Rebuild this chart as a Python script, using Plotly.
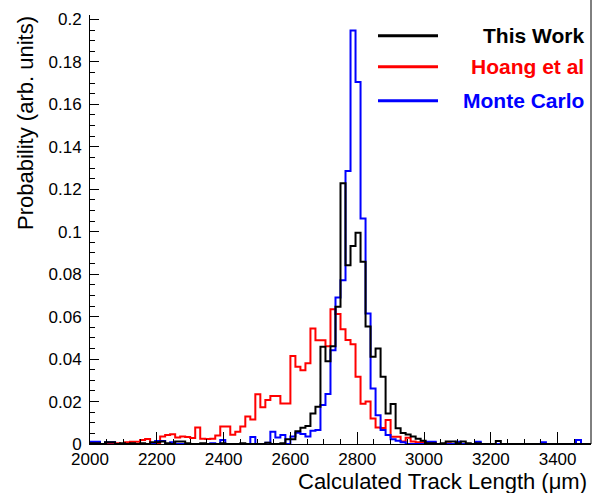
import numpy as np
import plotly.graph_objects as go

# Histogram binning: 100 bins of 15 um from 2000 to 3500 um
BIN_LO = 2000
BIN_WIDTH = 15
N_BINS = 100

# Normalised track-length distributions (one value per bin)
this_work = [
    0.0004, 0.0004, 0.0, 0.0008, 0.0008, 0.0, 0.0004, 0.0, 0.0004, 0.0,
    0.0004, 0.0, 0.0008, 0.0008, 0.0012, 0.0004, 0.0, 0.0012, 0.0012, 0.0004,
    0.0, 0.0, 0.0004, 0.0, 0.0, 0.0, 0.0004, 0.0, 0.0, 0.0,
    0.0004, 0.0, 0.0, 0.0, 0.0, 0.0006, 0.0, 0.0, 0.0004, 0.0022,
    0.0022, 0.0060, 0.0076, 0.0085, 0.0144, 0.0175, 0.0458, 0.0390, 0.0460, 0.0646,
    0.1228, 0.0842, 0.0933, 0.0995, 0.0858, 0.0553, 0.0411, 0.0450, 0.0317, 0.0144,
    0.0188, 0.0074, 0.0052, 0.0045, 0.0035, 0.0025, 0.0015, 0.0004, 0.0004, 0.0,
    0.0004, 0.0012, 0.0012, 0.0004, 0.0012, 0.0004, 0.0, 0.0004, 0.0, 0.0,
    0.0, 0.0014, 0.0, 0.0, 0.0, 0.0, 0.0, 0.0, 0.0, 0.0,
    0.0, 0.0, 0.0, 0.0, 0.0, 0.0, 0.0, 0.0, 0.0, 0.0,
]

hoang = [
    0.0008, 0.0004, 0.0, 0.0, 0.0, 0.0004, 0.0, 0.0008, 0.0011, 0.0011,
    0.0019, 0.0023, 0.0004, 0.0004, 0.0035, 0.0042, 0.0046, 0.0031, 0.0035, 0.0033,
    0.0028, 0.0078, 0.0025, 0.0023, 0.0025, 0.0040, 0.0082, 0.0082, 0.0044, 0.0058,
    0.0082, 0.0129, 0.0116, 0.0234, 0.0173, 0.0207, 0.0226, 0.0226, 0.0191, 0.0191,
    0.0414, 0.0364, 0.0348, 0.0380, 0.0544, 0.0489, 0.0489, 0.0460, 0.0635, 0.0612,
    0.0540, 0.0490, 0.0470, 0.0317, 0.0190, 0.0200, 0.0120, 0.0078, 0.0075, 0.0113,
    0.0034, 0.0034, 0.0012, 0.0030, 0.0012, 0.0008, 0.0008, 0.0004, 0.0008, 0.0,
    0.0, 0.0004, 0.0, 0.0, 0.0, 0.0, 0.0, 0.0, 0.0, 0.0,
    0.0, 0.0, 0.0, 0.0, 0.0, 0.0, 0.0, 0.0, 0.0, 0.0,
    0.0, 0.0, 0.0, 0.0, 0.0, 0.0, 0.0, 0.0, 0.0, 0.0,
]

monte_carlo = [
    0.0011, 0.0011, 0.0, 0.0008, 0.0008, 0.0, 0.0, 0.0, 0.0, 0.0,
    0.0, 0.0, 0.0, 0.0014, 0.0014, 0.0, 0.0008, 0.0, 0.0, 0.0,
    0.0, 0.0, 0.0, 0.0, 0.0004, 0.0, 0.0019, 0.0, 0.0, 0.0,
    0.0, 0.0, 0.0033, 0.0, 0.0, 0.0006, 0.0058, 0.0031, 0.0042, 0.0,
    0.0035, 0.0053, 0.0047, 0.0035, 0.0063, 0.0066, 0.0184, 0.0236, 0.0442, 0.0690,
    0.0772, 0.1286, 0.1948, 0.1705, 0.1062, 0.0615, 0.0262, 0.0136, 0.0066, 0.0042,
    0.0022, 0.0015, 0.0008, 0.0, 0.0, 0.0, 0.0, 0.0011, 0.0011, 0.0,
    0.0, 0.0, 0.0, 0.0011, 0.0, 0.0, 0.0, 0.0011, 0.0, 0.0,
    0.0, 0.0, 0.0, 0.0, 0.0, 0.0, 0.0, 0.0, 0.0, 0.0,
    0.0008, 0.0, 0.0, 0.0, 0.0, 0.0, 0.0, 0.0019, 0.0, 0.0,
]

series_names = ["This Work", "Hoang et al", "Monte Carlo"]
series_colors = ["#000000", "#ff0000", "#0000ff"]

x_tick_vals = [2000, 2200, 2400, 2600, 2800, 3000, 3200, 3400]
x_tick_text = ["2000", "2200", "2400", "2600", "2800", "3000", "3200", "3400"]
y_tick_vals = [0, 0.02, 0.04, 0.06, 0.08, 0.1, 0.12, 0.14, 0.16, 0.18, 0.2]
y_tick_text = ["0", "0.02", "0.04", "0.06", "0.08", "0.1", "0.12", "0.14", "0.16", "0.18", "0.2"]

X_TITLE = "Calculated Track Length (\u03bcm)"
Y_TITLE = "Probability (arb. units)"

# ---- layout geometry (pixels) ----
W, H = 595, 493
M_L, M_R, M_T, M_B = 90, 4, 15, 49
PLOT_W = W - M_L - M_R
PLOT_H = H - M_T - M_B
FONT = "Liberation Sans, Arial, Helvetica, sans-serif"


def px_x(px):
    return (px - M_L) / PLOT_W


def px_y(py):
    return (H - M_B - py) / PLOT_H


edges = BIN_LO + BIN_WIDTH * np.arange(N_BINS + 1)


def step_trace(values, color, name):
    vals = list(values)
    return go.Scatter(
        x=edges,
        y=vals + [vals[-1]],
        mode="lines",
        line=dict(color=color, width=2, shape="hv"),
        name=name,
        showlegend=False,
        hoverinfo="skip",
    )


fig = go.Figure()
# drawing order: red, blue, then black on top
fig.add_trace(step_trace(hoang, series_colors[1], series_names[1]))
fig.add_trace(step_trace(monte_carlo, series_colors[2], series_names[2]))
fig.add_trace(step_trace(this_work, series_colors[0], series_names[0]))

axis_common = dict(
    showgrid=False,
    zeroline=False,
    showline=True,
    linecolor="black",
    linewidth=1,
    ticks="inside",
    tickcolor="black",
    tickwidth=1,
    tickfont=dict(family=FONT, size=17, color="black"),
)

fig.update_xaxes(
    range=[BIN_LO, BIN_LO + BIN_WIDTH * N_BINS],
    tickmode="array",
    tickvals=x_tick_vals,
    ticktext=x_tick_text,
    ticklen=12,
    ticklabelstandoff=0,
    minor=dict(ticks="inside", ticklen=5, dtick=50, tick0=2000, tickcolor="black", showgrid=False),
    **axis_common,
)
fig.update_yaxes(
    range=[0, 0.2021],
    tickmode="array",
    tickvals=y_tick_vals,
    ticktext=y_tick_text,
    ticklen=9,
    ticklabelstandoff=4,
    minor=dict(ticks="inside", ticklen=5, dtick=0.005, tick0=0, tickcolor="black", showgrid=False),
    **axis_common,
)

shapes = [
    # right-hand frame line
    dict(type="line", xref="paper", yref="paper", x0=1, x1=1, y0=0, y1=px_y(0),
         line=dict(color="black", width=1)),
]

annotations = [
    dict(text=X_TITLE, xref="paper", yref="paper", x=px_x(589), y=px_y(482),
         xanchor="right", yanchor="middle", showarrow=False,
         font=dict(family=FONT, size=22, color="black")),
    dict(text=Y_TITLE, xref="paper", yref="paper", x=px_x(26), y=px_y(14),
         xanchor="center", yanchor="top", textangle=-90, showarrow=False,
         font=dict(family=FONT, size=22, color="black")),
]

# legend: line sample on the left, bold right-aligned label
legend_rows = [35.7, 66.7, 100.7]
for name, color, row in zip(series_names, series_colors, legend_rows):
    shapes.append(dict(type="line", xref="paper", yref="paper",
                       x0=px_x(378), x1=px_x(438), y0=px_y(row), y1=px_y(row),
                       line=dict(color=color, width=3)))
    annotations.append(dict(text="<b>%s</b>" % name, xref="paper", yref="paper",
                            x=px_x(586), y=px_y(row), xanchor="right", yanchor="middle",
                            showarrow=False,
                            font=dict(family=FONT, size=21, color=color)))

fig.update_layout(
    width=W,
    height=H,
    margin=dict(l=M_L, r=M_R, t=M_T, b=M_B, pad=0),
    paper_bgcolor="white",
    plot_bgcolor="white",
    showlegend=False,
    shapes=shapes,
    annotations=annotations,
)

fig.write_html("out.html", post_script="document.body.style.margin='0';")
